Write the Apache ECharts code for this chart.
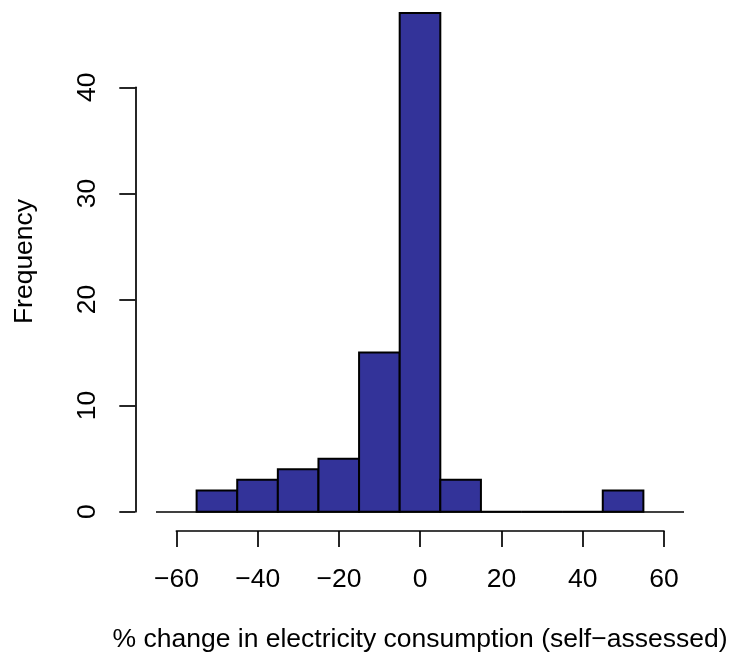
<!DOCTYPE html>
<html>
<head>
<meta charset="utf-8">
<script src="https://cdn.jsdelivr.net/npm/echarts@6/dist/echarts.min.js"></script>
<style>
  html, body { margin: 0; padding: 0; background: #fff; }
  #chart { width: 734px; height: 666px; }
</style>
</head>
<body>
<div id="chart"></div>
<script>
// histogram breaks and counts
const breaks = [-55, -45, -35, -25, -15, -5, 5, 15, 25, 35, 45, 55]
const counts = [2, 3, 4, 5, 15, 47, 3, 0, 0, 0, 2]
const xTicks = [-60, -40, -20, 0, 20, 40, 60]
const yTicks = [0, 10, 20, 30, 40]
const xTitle = '% change in electricity consumption (self\u2212assessed)'
const yTitle = 'Frequency'

const FONT = '"Liberation Sans", Arial, sans-serif'
const FS = 26.5

const Hist = {
    myChart: echarts.init(document.getElementById('chart')),
    fmt: function (v) { return v < 0 ? '\u2212' + Math.abs(v) : String(v) },
    bins: function () {
        return counts.map((c, i) => [breaks[i], breaks[i + 1], c])
    },
    renderBar: function (params, api) {
        const p0 = api.coord([api.value(0), api.value(2)])
        const p1 = api.coord([api.value(1), 0])
        return {
            type: 'rect',
            shape: { x: p0[0], y: p0[1], width: p1[0] - p0[0], height: p1[1] - p0[1] },
            style: { fill: '#333399', stroke: '#000', lineWidth: 2 }
        }
    },
    option: function () {
        const hidden = { show: false }
        const line = { lineStyle: { color: '#000', width: 1.7 } }
        const label = { color: '#000', fontSize: FS, fontFamily: FONT, lineHeight: FS }
        return {
            animation: false,
            backgroundColor: '#fff',
            grid: [
                // plot area
                { left: 156, right: 50, top: 0, bottom: 135 },
                // x axis strip
                { left: 176.4, width: 487.6, top: 530, height: 1 },
                // y axis strip
                { left: 135.3, width: 1, top: 87.3, height: 424.4 }
            ],
            xAxis: [
                { type: 'value', gridIndex: 0, min: -65, max: 65, show: false },
                {
                    type: 'value', gridIndex: 1, position: 'bottom',
                    min: xTicks[0], max: xTicks[xTicks.length - 1], interval: xTicks[1] - xTicks[0],
                    splitLine: hidden,
                    axisLine: Object.assign({ show: true }, line),
                    axisTick: Object.assign({ show: true, length: 16, inside: false }, line),
                    axisLabel: Object.assign({ margin: 35, formatter: this.fmt }, label)
                },
                { type: 'value', gridIndex: 2, show: false }
            ],
            yAxis: [
                { type: 'value', gridIndex: 0, min: -1.82, max: 48.23, show: false },
                { type: 'value', gridIndex: 1, show: false },
                {
                    type: 'value', gridIndex: 2, position: 'left',
                    min: yTicks[0], max: yTicks[yTicks.length - 1], interval: yTicks[1] - yTicks[0],
                    splitLine: hidden,
                    axisLine: Object.assign({ show: true }, line),
                    axisTick: Object.assign({ show: true, length: 16, inside: false }, line),
                    axisLabel: Object.assign({ margin: 34, rotate: 90, formatter: this.fmt }, label)
                }
            ],
            graphic: [
                {
                    type: 'text', x: 420, y: 640,
                    style: { text: xTitle, fill: '#000', font: FS + 'px ' + FONT, align: 'center', verticalAlign: 'middle' }
                },
                {
                    type: 'text', x: 25, y: 261.5, rotation: Math.PI / 2,
                    style: { text: yTitle, fill: '#000', font: FS + 'px ' + FONT, align: 'center', verticalAlign: 'middle' }
                }
            ],
            series: [{
                type: 'custom',
                xAxisIndex: 0, yAxisIndex: 0,
                renderItem: this.renderBar,
                encode: { x: [0, 1], y: 2 },
                data: this.bins(),
                z: 3,
                markLine: {
                    silent: true, symbol: 'none', label: hidden,
                    lineStyle: { color: '#000', width: 1.7, type: 'solid' },
                    data: [{ yAxis: 0 }]
                }
            }]
        }
    },
    init: function () {
        this.myChart.setOption(this.option())
    }
}
Hist.init()
</script>
</body>
</html>
